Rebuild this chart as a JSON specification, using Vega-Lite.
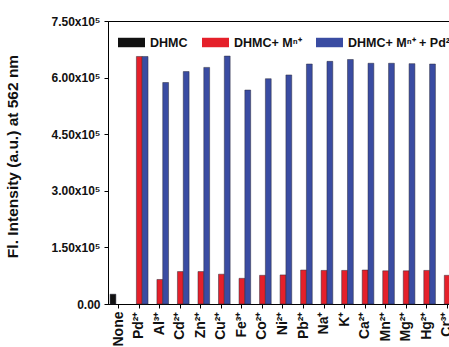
{
  "$schema": "https://vega.github.io/schema/vega-lite/v6.json",
  "autosize": {"type": "none"},
  "padding": {"left": 108, "top": 21, "right": 0, "bottom": 43},
  "width": 350,
  "height": 283,
  "background": "white",
  "config": {
    "font": "Liberation Sans",
    "view": {"stroke": "#000000", "strokeWidth": 1}
  },
  "data": {
    "values": [
      {"ion": "None", "series": "DHMC", "value": 26000},
      {"ion": "Pd²⁺", "series": "DHMC+ Mⁿ⁺", "value": 656000},
      {"ion": "Pd²⁺", "series": "DHMC+ Mⁿ⁺ + Pd²⁺", "value": 656000},
      {"ion": "Al³⁺", "series": "DHMC+ Mⁿ⁺", "value": 65000},
      {"ion": "Al³⁺", "series": "DHMC+ Mⁿ⁺ + Pd²⁺", "value": 587000},
      {"ion": "Cd²⁺", "series": "DHMC+ Mⁿ⁺", "value": 86000},
      {"ion": "Cd²⁺", "series": "DHMC+ Mⁿ⁺ + Pd²⁺", "value": 616000},
      {"ion": "Zn²⁺", "series": "DHMC+ Mⁿ⁺", "value": 86000},
      {"ion": "Zn²⁺", "series": "DHMC+ Mⁿ⁺ + Pd²⁺", "value": 627000},
      {"ion": "Cu²⁺", "series": "DHMC+ Mⁿ⁺", "value": 79000},
      {"ion": "Cu²⁺", "series": "DHMC+ Mⁿ⁺ + Pd²⁺", "value": 657000},
      {"ion": "Fe³⁺", "series": "DHMC+ Mⁿ⁺", "value": 68000},
      {"ion": "Fe³⁺", "series": "DHMC+ Mⁿ⁺ + Pd²⁺", "value": 567000},
      {"ion": "Co²⁺", "series": "DHMC+ Mⁿ⁺", "value": 76000},
      {"ion": "Co²⁺", "series": "DHMC+ Mⁿ⁺ + Pd²⁺", "value": 597000},
      {"ion": "Ni²⁺", "series": "DHMC+ Mⁿ⁺", "value": 77000},
      {"ion": "Ni²⁺", "series": "DHMC+ Mⁿ⁺ + Pd²⁺", "value": 607000},
      {"ion": "Pb²⁺", "series": "DHMC+ Mⁿ⁺", "value": 90000},
      {"ion": "Pb²⁺", "series": "DHMC+ Mⁿ⁺ + Pd²⁺", "value": 636000},
      {"ion": "Na⁺", "series": "DHMC+ Mⁿ⁺", "value": 89000},
      {"ion": "Na⁺", "series": "DHMC+ Mⁿ⁺ + Pd²⁺", "value": 643000},
      {"ion": "K⁺", "series": "DHMC+ Mⁿ⁺", "value": 89000},
      {"ion": "K⁺", "series": "DHMC+ Mⁿ⁺ + Pd²⁺", "value": 648000},
      {"ion": "Ca²⁺", "series": "DHMC+ Mⁿ⁺", "value": 90000},
      {"ion": "Ca²⁺", "series": "DHMC+ Mⁿ⁺ + Pd²⁺", "value": 638000},
      {"ion": "Mn²⁺", "series": "DHMC+ Mⁿ⁺", "value": 88000},
      {"ion": "Mn²⁺", "series": "DHMC+ Mⁿ⁺ + Pd²⁺", "value": 638000},
      {"ion": "Mg²⁺", "series": "DHMC+ Mⁿ⁺", "value": 88000},
      {"ion": "Mg²⁺", "series": "DHMC+ Mⁿ⁺ + Pd²⁺", "value": 637000},
      {"ion": "Hg²⁺", "series": "DHMC+ Mⁿ⁺", "value": 89000},
      {"ion": "Hg²⁺", "series": "DHMC+ Mⁿ⁺ + Pd²⁺", "value": 636000},
      {"ion": "Cr³⁺", "series": "DHMC+ Mⁿ⁺", "value": 76000},
      {"ion": "Cr³⁺", "series": "DHMC+ Mⁿ⁺ + Pd²⁺", "value": 636000}
    ]
  },
  "mark": {"type": "bar", "stroke": "#2a2a3a", "strokeWidth": 0.5},
  "encoding": {
    "x": {
      "field": "ion",
      "type": "nominal",
      "sort": null,
      "scale": {"paddingInner": 0.15, "paddingOuter": 0.1},
      "axis": {
        "title": null,
        "labelAngle": -90,
        "labelAlign": "right",
        "labelBaseline": "middle",
        "labelFont": "Liberation Sans",
        "labelFontWeight": "bold",
        "labelFontSize": 14,
        "labelColor": "#111111",
        "labelPadding": 3,
        "tickSize": 4,
        "tickColor": "#000000",
        "domainColor": "#000000",
        "labelOverlap": false
      }
    },
    "xOffset": {
      "field": "series",
      "type": "nominal",
      "scale": {"domain": ["DHMC", "DHMC+ Mⁿ⁺", "DHMC+ Mⁿ⁺ + Pd²⁺"], "paddingInner": 0, "paddingOuter": 0}
    },
    "y": {
      "field": "value",
      "type": "quantitative",
      "scale": {"domain": [0, 750000], "nice": false},
      "axis": {
        "title": "Fl. Intensity (a.u.) at 562 nm",
        "titleFont": "Liberation Sans",
        "titleFontWeight": "bold",
        "titleFontSize": 15.5,
        "titleColor": "#111111",
        "titleAngle": -90,
        "titleAlign": "center",
        "titleBaseline": "middle",
        "titleX": -96,
        "titleY": 135,
        "values": [0, 150000, 300000, 450000, 600000, 750000],
        "labelExpr": "datum.value === 0 ? '0.00' : format(datum.value / 100000, '.2f') + 'x10⁵'",
        "labelFont": "Liberation Sans",
        "labelFontWeight": "bold",
        "labelFontSize": 12,
        "labelColor": "#111111",
        "labelPadding": 4,
        "tickSize": 4,
        "tickColor": "#000000",
        "domainColor": "#000000",
        "grid": false
      }
    },
    "color": {
      "field": "series",
      "type": "nominal",
      "scale": {
        "domain": ["DHMC", "DHMC+ Mⁿ⁺", "DHMC+ Mⁿ⁺ + Pd²⁺"],
        "range": ["#111111", "#e5202a", "#3a4ca2"]
      },
      "legend": {
        "title": null,
        "orient": "none",
        "direction": "horizontal",
        "legendX": 10,
        "legendY": 8,
        "symbolType": "M-1,-0.35H1V0.35H-1Z",
        "symbolSize": 729,
        "symbolStrokeWidth": 0,
        "labelFont": "Liberation Sans",
        "labelFontWeight": "bold",
        "labelFontSize": 12.5,
        "labelColor": "#111111",
        "labelOffset": 5,
        "columnPadding": 14
      }
    }
  }
}
